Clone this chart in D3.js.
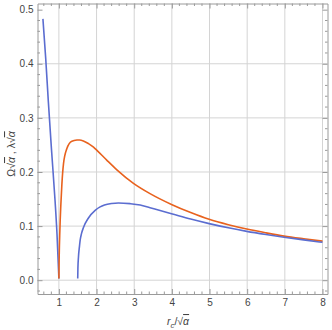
<!DOCTYPE html>
<html>
<head>
<meta charset="utf-8">
<script src="https://cdn.jsdelivr.net/npm/d3@7"></script>
<style>
  body { margin: 0; background: #fff; }
  svg { display: block; }
  .tick-label { font-family: "Liberation Sans", Arial, sans-serif; font-size: 10px; fill: #444; }
  .axis-title { font-family: "Liberation Sans", Arial, sans-serif; font-size: 10.5px; fill: #444; }
</style>
</head>
<body>
<div id="chart"></div>
<script>
// values
const branch1X = [0.576, 0.65, 0.72, 0.80, 0.90, 0.95, 1.0];
const branch1Y = [0.483, 0.41, 0.33, 0.245, 0.145, 0.085, 0.003];

const orangeX = [1.0, 1.008, 1.026, 1.053, 1.08, 1.122, 1.21, 1.345, 1.48, 1.55, 1.65, 1.785, 1.92, 2.01, 2.27, 2.54, 2.98, 3.42, 3.99, 4.5, 4.99, 5.5, 5.99, 6.5, 6.98, 7.5, 8.0];
const orangeY = [0.003, 0.043, 0.092, 0.141, 0.178, 0.215, 0.243, 0.257, 0.259, 0.2592, 0.2575, 0.2525, 0.246, 0.240, 0.222, 0.204, 0.179, 0.160, 0.140, 0.125, 0.1125, 0.1025, 0.0945, 0.0875, 0.0815, 0.0765, 0.0722];

const branch2X = [1.5, 1.505, 1.52, 1.547, 1.565, 1.6, 1.65, 1.785, 1.963, 2.095, 2.21, 2.4, 2.58, 2.89, 3.16, 3.42, 3.99, 4.5, 4.99, 5.5, 5.99, 6.5, 6.98, 7.5, 8.0];
const branch2Y = [0.003, 0.022, 0.043, 0.063, 0.074, 0.086, 0.097, 0.115, 0.129, 0.1355, 0.139, 0.1418, 0.1428, 0.1415, 0.139, 0.134, 0.123, 0.113, 0.1046, 0.0968, 0.0903, 0.0845, 0.0795, 0.0745, 0.0700];

const xTicks = [1, 2, 3, 4, 5, 6, 7, 8];
const yTicks = [0.0, 0.1, 0.2, 0.3, 0.4, 0.5];
const xGrid = [1, 2, 3, 4, 5, 6, 7, 8];
const yGrid = [0.0, 0.1, 0.2, 0.3, 0.4];

const blue = "#5b6dd0";
const orange = "#e8621e";

// plot frame in pixels
let margin = {top: 3.5, right: 4.5, bottom: 36, left: 37.5},
    width = 332 - margin.left - margin.right,
    height = 330 - margin.top - margin.bottom;

let svg = d3.select("#chart")
    .append("svg")
    .attr("width", 332)
    .attr("height", 330);

let g = svg.append("g")
    .attr("transform", "translate(" + margin.left + "," + margin.top + ")");

let x = d3.scaleLinear().domain([0.432, 8.133]).range([0, width]);
let y = d3.scaleLinear().domain([-0.0255, 0.5114]).range([height, 0]);

// grid
g.selectAll(".vgrid")
    .data(xGrid)
    .enter().append("line")
    .attr("x1", d => x(d)).attr("x2", d => x(d))
    .attr("y1", 0).attr("y2", height)
    .attr("stroke", "#d4d4d4")
    .attr("stroke-width", 1);

g.selectAll(".hgrid")
    .data(yGrid)
    .enter().append("line")
    .attr("y1", d => y(d)).attr("y2", d => y(d))
    .attr("x1", 0).attr("x2", width)
    .attr("stroke", "#d4d4d4")
    .attr("stroke-width", 1);

// frame axes, ticks pointing in
let minorX = d3.range(0.6, 8.05, 0.2).filter(v => Math.abs(v - Math.round(v)) > 0.01);
let minorY = d3.range(-0.02, 0.511, 0.02).filter(v => Math.abs(v * 10 - Math.round(v * 10)) > 0.01);

function styleAxis(sel) {
    sel.select(".domain").attr("stroke", "#9a9a9a");
    sel.selectAll(".tick line").attr("stroke", "#9a9a9a");
    sel.selectAll("text").attr("class", "tick-label").attr("fill", "#444");
}

let bottomAxis = g.append("g")
    .attr("transform", "translate(0," + height + ")")
    .call(d3.axisBottom(x).tickValues(xTicks).tickSize(-5).tickPadding(5).tickSizeOuter(0).tickFormat(d3.format("d")));
styleAxis(bottomAxis);
bottomAxis.append("g").selectAll("line").data(minorX).enter().append("line")
    .attr("x1", d => x(d)).attr("x2", d => x(d)).attr("y1", 0).attr("y2", -2.5).attr("stroke", "#9a9a9a");

let leftAxis = g.append("g")
    .call(d3.axisLeft(y).tickValues(yTicks).tickSize(-5).tickPadding(4).tickSizeOuter(0).tickFormat(d3.format(".1f")));
styleAxis(leftAxis);
leftAxis.append("g").selectAll("line").data(minorY).enter().append("line")
    .attr("y1", d => y(d)).attr("y2", d => y(d)).attr("x1", 0).attr("x2", 2.5).attr("stroke", "#9a9a9a");

let topAxis = g.append("g")
    .call(d3.axisTop(x).tickValues(xTicks).tickSize(-5).tickSizeOuter(0).tickFormat(""));
styleAxis(topAxis);
topAxis.append("g").selectAll("line").data(minorX).enter().append("line")
    .attr("x1", d => x(d)).attr("x2", d => x(d)).attr("y1", 0).attr("y2", 2.5).attr("stroke", "#9a9a9a");

let rightAxis = g.append("g")
    .attr("transform", "translate(" + width + ",0)")
    .call(d3.axisRight(y).tickValues(yTicks).tickSize(-5).tickSizeOuter(0).tickFormat(""));
styleAxis(rightAxis);
rightAxis.append("g").selectAll("line").data(minorY).enter().append("line")
    .attr("y1", d => y(d)).attr("y2", d => y(d)).attr("x1", 0).attr("x2", -2.5).attr("stroke", "#9a9a9a");

// curves
let line = d3.line()
    .x(d => x(d[0]))
    .y(d => y(d[1]))
    .curve(d3.curveMonotoneX);

let series = [
    {xs: branch1X, ys: branch1Y, color: blue},
    {xs: orangeX, ys: orangeY, color: orange},
    {xs: branch2X, ys: branch2Y, color: blue}
];

g.append("clipPath").attr("id", "plot-clip")
    .append("rect").attr("width", width).attr("height", height);

g.append("g").attr("clip-path", "url(#plot-clip)")
    .selectAll(".curve")
    .data(series)
    .enter().append("path")
    .attr("class", "curve")
    .attr("fill", "none")
    .attr("stroke", d => d.color)
    .attr("stroke-width", 1.6)
    .attr("stroke-linejoin", "round")
    .attr("d", d => line(d.xs.map((v, i) => [v, d.ys[i]])));

// axis titles
let xt = svg.append("text")
    .attr("class", "axis-title")
    .attr("x", 178)
    .attr("y", 325)
    .attr("text-anchor", "middle");
xt.append("tspan").style("font-style", "italic").text("r");
xt.append("tspan").attr("dy", 2.5).style("font-size", "8px").style("font-style", "italic").text("c");
xt.append("tspan").attr("dy", -2.5).text("/√");
xt.append("tspan").style("font-style", "italic").style("text-decoration", "overline").text("α");

let ytGroup = svg.append("g")
    .attr("transform", "translate(15,154) rotate(-90)");
let yt = ytGroup.append("text")
    .attr("class", "axis-title")
    .attr("x", 0)
    .attr("y", 0)
    .attr("text-anchor", "middle");
yt.append("tspan").text("Ω√");
yt.append("tspan").style("font-style", "italic").style("text-decoration", "overline").text("α");
yt.append("tspan").text(" , λ√");
yt.append("tspan").style("font-style", "italic").style("text-decoration", "overline").text("α");
</script>
</body>
</html>
